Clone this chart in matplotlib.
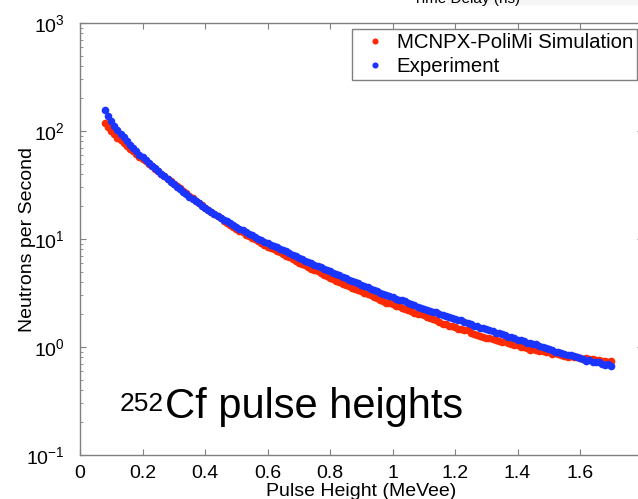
import matplotlib
matplotlib.use("Agg")
import matplotlib.pyplot as plt
from matplotlib.patches import Rectangle

plt.rcParams['font.family'] = ['Liberation Sans', 'DejaVu Sans']
plt.rcParams['mathtext.fontset'] = 'custom'
plt.rcParams['mathtext.rm'] = 'Liberation Sans'
plt.rcParams['mathtext.it'] = 'Liberation Sans:italic'
plt.rcParams['mathtext.bf'] = 'Liberation Sans:bold'
plt.rcParams['mathtext.default'] = 'regular'

# pulse height (MeVee)
pulse_height = [0.08, 0.09, 0.10, 0.11, 0.12, 0.13, 0.14, 0.15, 0.16, 0.17,
                0.18, 0.19, 0.20, 0.21, 0.22, 0.23, 0.24, 0.25, 0.26, 0.27,
                0.28, 0.29, 0.30, 0.31, 0.32, 0.33, 0.34, 0.35, 0.36, 0.37,
                0.38, 0.39, 0.40, 0.41, 0.42, 0.43, 0.44, 0.45, 0.46, 0.47,
                0.48, 0.49, 0.50, 0.51, 0.52, 0.53, 0.54, 0.55, 0.56, 0.57,
                0.58, 0.59, 0.60, 0.61, 0.62, 0.63, 0.64, 0.65, 0.66, 0.67,
                0.68, 0.69, 0.70, 0.71, 0.72, 0.73, 0.74, 0.75, 0.76, 0.77,
                0.78, 0.79, 0.80, 0.81, 0.82, 0.83, 0.84, 0.85, 0.86, 0.87,
                0.88, 0.89, 0.90, 0.91, 0.92, 0.93, 0.94, 0.95, 0.96, 0.97,
                0.98, 0.99, 1.00, 1.01, 1.02, 1.03, 1.04, 1.05, 1.06, 1.07,
                1.08, 1.09, 1.10, 1.11, 1.12, 1.13, 1.14, 1.15, 1.16, 1.17,
                1.18, 1.19, 1.20, 1.21, 1.22, 1.23, 1.24, 1.25, 1.26, 1.27,
                1.28, 1.29, 1.30, 1.31, 1.32, 1.33, 1.34, 1.35, 1.36, 1.37,
                1.38, 1.39, 1.40, 1.41, 1.42, 1.43, 1.44, 1.45, 1.46, 1.47,
                1.48, 1.49, 1.50, 1.51, 1.52, 1.53, 1.54, 1.55, 1.56, 1.57,
                1.58, 1.59, 1.60, 1.61, 1.62, 1.63, 1.64, 1.65, 1.66, 1.67,
                1.68, 1.69, 1.70]

# neutrons per second, MCNPX-PoliMi simulation
simulation = [119, 110, 100, 93.2, 86.8, 82.2, 77.6, 73.0, 68.4, 64.6,
              61.0, 57.5, 55.0, 52.5, 49.8, 47.2, 44.7, 42.4, 40.3, 38.0,
              35.9, 34.1, 32.4, 31.0, 29.5, 28.0, 26.6, 25.2, 23.9, 22.7,
              21.6, 20.5, 19.5, 18.6, 17.8, 17.0, 16.2, 15.5, 14.8, 14.2,
              13.5, 12.9, 12.3, 11.9, 11.5, 11.0, 10.6, 10.3, 9.91, 9.50,
              9.12, 8.80, 8.51, 8.30, 8.05, 7.75, 7.50, 7.22, 7.00, 6.80,
              6.53, 6.30, 6.05, 5.92, 5.69, 5.52, 5.31, 5.12, 5.05, 4.85,
              4.68, 4.50, 4.36, 4.26, 4.12, 3.98, 3.82, 3.76, 3.68, 3.55,
              3.47, 3.36, 3.33, 3.18, 3.09, 3.02, 2.92, 2.83, 2.72, 2.68,
              2.55, 2.53, 2.48, 2.40, 2.42, 2.30, 2.26, 2.22, 2.16, 2.08,
              2.04, 2.01, 1.99, 1.90, 1.84, 1.82, 1.76, 1.70, 1.64, 1.63,
              1.58, 1.56, 1.53, 1.48, 1.46, 1.45, 1.43, 1.36, 1.31, 1.30,
              1.27, 1.24, 1.20, 1.21, 1.19, 1.15, 1.13, 1.12, 1.13, 1.08,
              1.07, 1.05, 1.04, 1.01, 1.00, 0.98, 0.945, 0.96, 0.943, 0.92,
              0.912, 0.90, 0.895, 0.87, 0.871, 0.86, 0.841, 0.83, 0.81, 0.82,
              0.813, 0.80, 0.794, 0.77, 0.79, 0.77, 0.768, 0.75, 0.765, 0.74,
              0.741, 0.72, 0.735]

# neutrons per second, experiment
experiment = [155, 138, 123, 112, 102, 94.4, 87.1, 80.4, 74.1, 69.2,
              64.6, 60.3, 56.9, 53.7, 50.7, 47.9, 45.2, 42.7, 40.3, 38.0,
              35.9, 33.9, 32.0, 30.4, 28.8, 27.3, 26.0, 24.6, 23.4, 22.5,
              21.4, 20.4, 19.5, 18.7, 17.8, 17.1, 16.4, 15.7, 15.1, 14.6,
              14.0, 13.4, 12.9, 12.5, 12.0, 11.6, 11.2, 10.8, 10.5, 10.1,
              9.77, 9.40, 9.12, 8.88, 8.61, 8.35, 8.13, 7.85, 7.75, 7.40,
              7.16, 6.95, 6.70, 6.55, 6.31, 6.15, 6.02, 5.78, 5.62, 5.48,
              5.31, 5.12, 5.01, 4.88, 4.78, 4.60, 4.47, 4.35, 4.18, 4.10,
              3.98, 3.88, 3.76, 3.64, 3.60, 3.44, 3.35, 3.27, 3.13, 3.10,
              3.02, 2.94, 2.88, 2.80, 2.75, 2.70, 2.66, 2.56, 2.51, 2.43,
              2.34, 2.32, 2.26, 2.20, 2.16, 2.10, 2.09, 2.01, 1.97, 1.93,
              1.88, 1.86, 1.82, 1.77, 1.76, 1.69, 1.66, 1.63, 1.58, 1.56,
              1.50, 1.49, 1.46, 1.43, 1.40, 1.36, 1.36, 1.31, 1.29, 1.25,
              1.23, 1.21, 1.17, 1.16, 1.135, 1.10, 1.084, 1.07, 1.06, 1.02,
              1.00, 0.98, 0.955, 0.94, 0.90, 0.90, 0.881, 0.86, 0.851, 0.84,
              0.83, 0.80, 0.785, 0.78, 0.74, 0.75, 0.733, 0.72, 0.72, 0.70,
              0.68, 0.69, 0.668]

W, H = 638, 499
fig = plt.figure(figsize=(W / 100, H / 100), dpi=100)
ax = fig.add_axes([80 / W, 1 - 455 / H, 562.5 / W, 432 / H])

ax.plot(pulse_height, simulation, 'o', color='#ff2a00', ms=5.5, mew=0,
        label='MCNPX-PoliMi Simulation')
ax.plot(pulse_height, experiment, 'o', color='#1a35ff', ms=5.5, mew=0,
        label='Experiment')

ax.set_yscale('log')
ax.set_xlim(0, 1.8)
ax.set_ylim(0.1, 1000)
ax.set_xticks([0, 0.2, 0.4, 0.6, 0.8, 1.0, 1.2, 1.4, 1.6])
ax.set_xticklabels(['0', '0.2', '0.4', '0.6', '0.8', '1', '1.2', '1.4', '1.6'])

gray = '#808080'
for s in ax.spines.values():
    s.set_color(gray)
    s.set_linewidth(1)
ax.tick_params(which='both', direction='in', top=True, right=True, colors=gray,
               labelcolor='black', labelsize=14)
ax.tick_params(which='major', length=4)
ax.tick_params(which='minor', length=2)
ax.tick_params(axis='x', pad=7)
ax.tick_params(axis='y', pad=11)

ax.set_xlabel('Pulse Height (MeVee)', fontsize=14, va='center')
ax.xaxis.set_label_coords(0.5, -36 / 432)
ax.set_ylabel('Neutrons per Second', fontsize=14, va='center')
ax.yaxis.set_label_coords(-52 / 562.5, 0.5)

leg = ax.legend(loc='upper right', bbox_to_anchor=(637 / W, 1 - 29 / H),
                bbox_transform=fig.transFigure, borderaxespad=0, fontsize=14.7,
                numpoints=1, markerscale=0.8, fancybox=False, framealpha=1,
                edgecolor=gray, borderpad=0.2, labelspacing=0.25,
                handlelength=1.9, handletextpad=0.1)
leg.get_frame().set_linewidth(1)

# annotation inside the plot
fig.text(164 / W, 1 - 411 / H, '252', fontsize=19, ha='right', va='baseline')
fig.text(165 / W, 1 - 418 / H, 'Cf pulse heights', fontsize=30,
         ha='left', va='baseline')

# remnant of the slide above
fig.patches.append(Rectangle((447 / W, 1 - 4 / H), 191 / W, 4 / H,
                             transform=fig.transFigure, color='#f5f5f5',
                             zorder=0))
fig.text(467 / W, 1 - 3 / H, 'Time Delay (ns)', fontsize=11, ha='center',
         va='baseline')

fig.savefig('out.png', dpi=100)
